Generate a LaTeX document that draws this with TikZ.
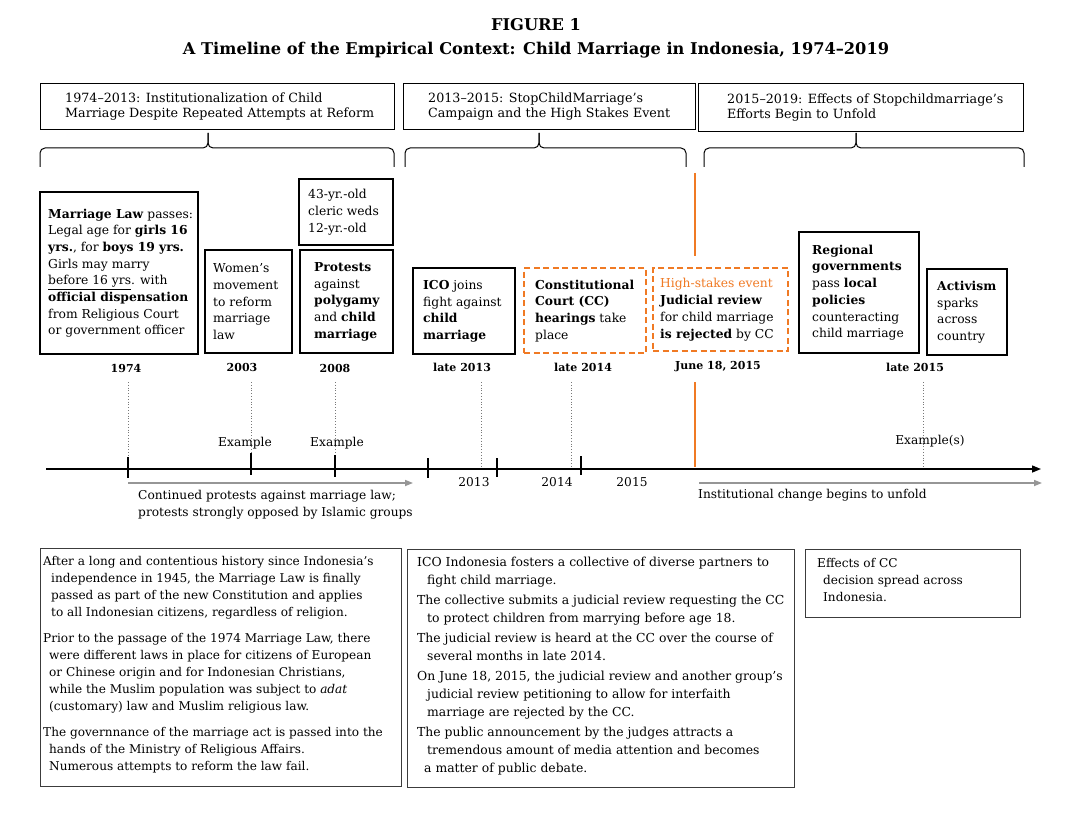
\documentclass[tikz,border=0pt]{standalone}
\usepackage{fontspec}
\setmainfont{DejaVu Serif}
\usetikzlibrary{arrows.meta}
\definecolor{myorange}{RGB}{240,122,36}
\definecolor{arrgray}{RGB}{150,150,150}
\definecolor{dotgray}{RGB}{120,120,120}
\definecolor{boxgray}{RGB}{60,60,60}
\newcommand\myEv{\fontsize{12.3}{16.7}\selectfont}
\newcommand\myBodyL{\fontsize{12.1}{17}\selectfont}
\newcommand\myBodyM{\fontsize{12.4}{18}\selectfont}
\newcommand\myHead{\fontsize{12.7}{15.5}\selectfont}
\newcommand\myYear{\fontsize{11}{13}\selectfont\bfseries}
\newcommand\myAx{\fontsize{12.2}{17}\selectfont}
\newcommand\myTitle{\fontsize{16.2}{24}\selectfont\bfseries}
\tikzset{
  evbox/.style={draw, line width=2.4pt, inner sep=0pt, anchor=north west},
  evdash/.style={draw=myorange, line width=2.4pt, dash pattern=on 6pt off 3.5pt, inner sep=0pt, anchor=north west},
  evtext/.style={anchor=west, align=left, inner sep=0pt, font=\myEv},
  hbox/.style={draw, line width=1.1pt, inner sep=0pt, anchor=north west},
  htext/.style={anchor=west, align=left, inner sep=0pt, font=\myHead},
  bbox/.style={draw=boxgray, line width=1.4pt, inner sep=0pt, anchor=north west},
  yearlbl/.style={inner sep=0pt, font=\myYear},
  axlbl/.style={inner sep=0pt, font=\myAx},
  bracestyle/.style={line width=1pt, rounded corners=5pt},
  dotln/.style={dotgray, line width=0.8pt, dotted},
  tickln/.style={line width=1.6pt},
  orangeln/.style={myorange, line width=2.5pt},
  grayarrow/.style={arrgray, line width=1.6pt, -{Triangle[length=8pt,width=6pt]}},
  axisln/.style={line width=1.4pt, -{Triangle[length=9pt,width=7pt]}}
}
\begin{document}
\begin{tikzpicture}[x=1pt,y=-1pt]
\fill[white] (0,0) rectangle (1071,813);
\useasboundingbox (0,0) rectangle (1071,813);

% title
\node[font=\myTitle, inner sep=0pt] (title1) at (536,25) {FIGURE 1};
\node[font=\myTitle, inner sep=0pt] (title2) at (536,50) {A Timeline of the Empirical Context: Child Marriage in Indonesia, 1974--2019};

% header boxes
\node[hbox, minimum width=354pt, minimum height=46pt] (h1) at (40,83) {};
\node[htext] (h1t) at ([xshift=25pt]h1.west) {1974--2013: Institutionalization of Child\\Marriage Despite Repeated Attempts at Reform};
\node[hbox, minimum width=292pt, minimum height=46pt] (h2) at (403,83) {};
\node[htext] (h2t) at ([xshift=25pt]h2.west) {2013--2015: StopChildMarriage’s\\Campaign and the High Stakes Event};
\node[hbox, minimum width=325pt, minimum height=48pt] (h3) at (698,83) {};
\node[htext] (h3t) at ([xshift=29pt]h3.west) {2015--2019: Effects of Stopchildmarriage’s\\Efforts Begin to Unfold};

% braces
\draw[bracestyle] (40,167) -- (40,148) -- (208,148) -- (208,133);
\draw[bracestyle] (394,167) -- (394,148) -- (208,148) -- (208,133);
\draw[bracestyle] (405,167) -- (405,148) -- (539,148) -- (539,133);
\draw[bracestyle] (686,167) -- (686,148) -- (539,148) -- (539,133);
\draw[bracestyle] (704,167) -- (704,148) -- (856,148) -- (856,133);
\draw[bracestyle] (1024,167) -- (1024,148) -- (856,148) -- (856,133);

% event boxes
\node[evbox, minimum width=158pt, minimum height=162pt] (b1974) at (39,191) {};
\node[evtext] (t1974) at ([xshift=9pt]b1974.west) {\textbf{Marriage Law} passes:\\Legal age for \textbf{girls 16}\\\textbf{yrs.}, for \textbf{boys 19 yrs.}\\Girls may marry\\\underline{before 16 yrs}. with\\\textbf{official dispensation}\\from Religious Court\\or government officer};

\node[evbox, minimum width=87pt, minimum height=103pt] (b2003) at (204,249) {};
\node[evtext] (t2003) at ([xshift=9pt]b2003.west) {Women’s\\movement\\to reform\\marriage\\law};

\node[evbox, minimum width=94pt, minimum height=66pt] (b43) at (298,178) {};
\node[evtext] (t43) at ([xshift=10pt]b43.west) {43-yr.-old\\cleric weds\\12-yr.-old};

\node[evbox, minimum width=93pt, minimum height=103pt] (bprot) at (299,249) {};
\node[evtext] (tprot) at ([xshift=15pt]bprot.west) {\textbf{Protests}\\against\\\textbf{polygamy}\\and \textbf{child}\\\textbf{marriage}};

\node[evbox, minimum width=102pt, minimum height=86pt] (bico) at (412,267) {};
\node[evtext] (tico) at ([xshift=11pt]bico.west) {\textbf{ICO} joins\\fight against\\\textbf{child}\\\textbf{marriage}};

\node[evdash, minimum width=122pt, minimum height=85pt] (bcc) at (523,267) {};
\node[evtext] (tcc) at ([xshift=12pt]bcc.west) {\textbf{Constitutional}\\\textbf{Court (CC)}\\\textbf{hearings} take\\place};

\node[evdash, minimum width=135pt, minimum height=83pt] (bhs) at (652,267) {};
\node[evtext] (ths) at ([xshift=8pt]bhs.west) {\textcolor{myorange}{High-stakes event}\\\textbf{Judicial review}\\for child marriage\\\textbf{is rejected} by CC};

\node[evbox, minimum width=120pt, minimum height=121pt] (breg) at (798,231) {};
\node[evtext] (treg) at ([xshift=14pt]breg.west) {\textbf{Regional}\\\textbf{governments}\\pass \textbf{local}\\\textbf{policies}\\counteracting\\child marriage};

\node[evbox, minimum width=80pt, minimum height=86pt] (bact) at (926,268) {};
\node[evtext] (tact) at ([xshift=11pt]bact.west) {\textbf{Activism}\\sparks\\across\\country};

% year labels
\node[yearlbl] (y1974) at (126,368) {1974};
\node[yearlbl] (y2003) at (242,367) {2003};
\node[yearlbl] (y2008) at (335,368) {2008};
\node[yearlbl] (y2013) at (462,367) {late 2013};
\node[yearlbl] (y2014) at (583,367) {late 2014};
\node[yearlbl] (y2015) at (718,367) {June 18, 2015};
\node[yearlbl] (y2015b) at (915,367) {late 2015};

% orange high-stakes line
\coordinate (otop) at (695,173);
\coordinate (obot) at (695,467);
\draw[orangeln] (otop) -- (695,256);
\draw[orangeln] (695,382) -- (obot);

% dotted guide lines
\draw[dotln] (128,382) -- (128,458);
\draw[dotln] (251,382) -- (251,453);
\draw[dotln] (335,382) -- (335,455);
\draw[dotln] (481,382) -- (481,468);
\draw[dotln] (571,382) -- (571,468);
\draw[dotln] (923,382) -- (923,468);

% axis
\coordinate (axL) at (46,469);
\coordinate (axR) at (1041,469);
\draw[axisln] (axL) -- (axR);
\draw[tickln] (128,457) -- (128,478);
\draw[tickln] (251,453) -- (251,475);
\draw[tickln] (335,455) -- (335,477);
\draw[tickln] (428,458) -- (428,478);
\draw[tickln] (497,458) -- (497,477);
\draw[tickln] (581,456) -- (581,475);

% gray arrows
\coordinate (g1a) at (128,483);
\coordinate (g1b) at (413,483);
\coordinate (g2a) at (699,483);
\coordinate (g2b) at (1042,483);
\draw[grayarrow] (g1a) -- (g1b);
\draw[grayarrow] (g2a) -- (g2b);

% axis labels
\node[axlbl] (ex1) at (245,443) {Example};
\node[axlbl] (ex2) at (337,443) {Example};
\node[axlbl] (ex3) at (930,441) {Example(s)};
\node[axlbl] (l2013) at (474,482) {2013};
\node[axlbl] (l2014) at (557,482) {2014};
\node[axlbl] (l2015) at (632,482) {2015};
\node[axlbl, anchor=west, align=left] (cont) at (138,505) {Continued protests against marriage law;\\protests strongly opposed by Islamic groups};
\node[axlbl, anchor=west] (inst) at (698,495) {Institutional change begins to unfold};

% bottom boxes
\node[bbox, minimum width=361pt, minimum height=238pt] (bl) at (40,548) {};
\node[anchor=north west, align=left, inner sep=0pt, font=\myBodyL] (blt) at (43,556) {After a long and contentious history since Indonesia’s\\\hspace*{8pt}independence in 1945, the Marriage Law is finally\\\hspace*{8pt}passed as part of the new Constitution and applies\\\hspace*{8pt}to all Indonesian citizens, regardless of religion.\\[9pt]Prior to the passage of the 1974 Marriage Law, there\\\hspace*{6pt}were different laws in place for citizens of European\\\hspace*{6pt}or Chinese origin and for Indonesian Christians,\\\hspace*{6pt}while the Muslim population was subject to \textit{adat}\\\hspace*{6pt}(customary) law and Muslim religious law.\\[9pt]The governnance of the marriage act is passed into the\\\hspace*{6pt}hands of the Ministry of Religious Affairs.\\\hspace*{6pt}Numerous attempts to reform the law fail.};

\node[bbox, minimum width=387pt, minimum height=238pt] (bm) at (407,549) {};
\node[anchor=north west, align=left, inner sep=0pt, font=\myBodyM] (bmt) at (417,557) {ICO Indonesia fosters a collective of diverse partners to\\\hspace*{10pt}fight child marriage.\\[2pt]The collective submits a judicial review requesting the CC\\\hspace*{10pt}to protect children from marrying before age 18.\\[2pt]The judicial review is heard at the CC over the course of\\\hspace*{10pt}several months in late 2014.\\[2pt]On June 18, 2015, the judicial review and another group’s\\\hspace*{10pt}judicial review petitioning to allow for interfaith\\\hspace*{10pt}marriage are rejected by the CC.\\[2pt]The public announcement by the judges attracts a\\\hspace*{10pt}tremendous amount of media attention and becomes\\\hspace*{7pt}a matter of public debate.};

\node[bbox, minimum width=215pt, minimum height=68pt] (br) at (805,549) {};
\node[anchor=north west, align=left, inner sep=0pt, font=\myBodyL] (brt) at (817,558) {Effects of CC\\\hspace*{6pt}decision spread across\\\hspace*{6pt}Indonesia.};
\end{tikzpicture}
\end{document}
